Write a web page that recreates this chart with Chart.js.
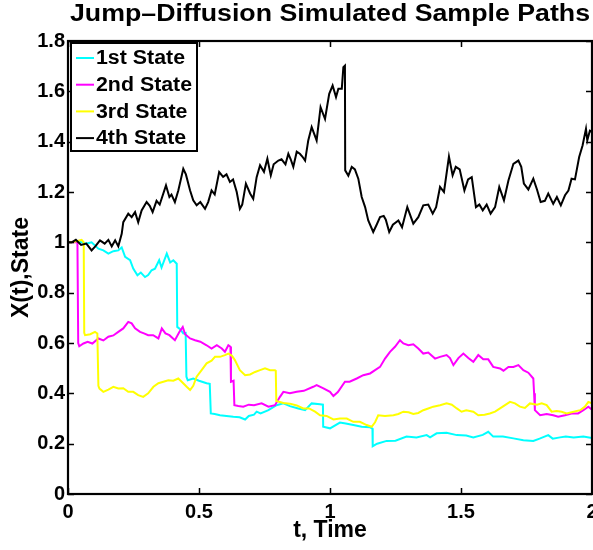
<!DOCTYPE html>
<html>
<head>
<meta charset="utf-8">
<script src="https://cdn.jsdelivr.net/npm/chart.js@4.4.1/dist/chart.umd.min.js"></script>
<style>
html,body{margin:0;padding:0;background:#fff;}
#wrap{width:593px;height:550px;position:relative;}
</style>
</head>
<body>
<div id="wrap"><canvas id="c" width="593" height="550"></canvas></div>
<script>
const chartTitle = 'Jump\u2013Diffusion Simulated Sample Paths';
const seriesNames = ['1st State', '2nd State', '3rd State', '4th State'];
const seriesColors = ['#00FFFF', '#FF00FF', '#FFFF00', '#000000'];
const xTickValues = [0, 0.5, 1, 1.5, 2];
const xTickLabels = ['0', '0.5', '1', '1.5', '2'];
const yTickValues = [0, 0.2, 0.4, 0.6, 0.8, 1, 1.2, 1.4, 1.6, 1.8];
const yTickLabels = ['0', '0.2', '0.4', '0.6', '0.8', '1', '1.2', '1.4', '1.6', '1.8'];

const state1 = [[0,1.0],[0.014,1.0],[0.036,1.005],[0.071,0.995],[0.09,1.0],[0.116,0.975],[0.135,0.968],[0.154,0.955],[0.173,0.965],[0.192,0.968],[0.205,0.98],[0.218,0.942],[0.237,0.929],[0.249,0.896],[0.265,0.869],[0.278,0.88],[0.294,0.862],[0.306,0.87],[0.319,0.889],[0.332,0.895],[0.348,0.929],[0.357,0.9],[0.377,0.955],[0.39,0.92],[0.402,0.929],[0.415,0.915],[0.417,0.664],[0.428,0.655],[0.44,0.638],[0.449,0.64],[0.452,0.466],[0.457,0.452],[0.478,0.459],[0.5,0.45],[0.529,0.44],[0.541,0.438],[0.545,0.32],[0.56,0.318],[0.58,0.313],[0.605,0.31],[0.631,0.307],[0.655,0.305],[0.676,0.296],[0.69,0.31],[0.71,0.315],[0.72,0.327],[0.735,0.32],[0.765,0.333],[0.796,0.353],[0.822,0.36],[0.847,0.349],[0.879,0.34],[0.905,0.333],[0.93,0.36],[0.962,0.357],[0.973,0.355],[0.974,0.267],[1.0,0.261],[1.038,0.284],[1.06,0.28],[1.089,0.274],[1.121,0.267],[1.153,0.265],[1.162,0.26],[1.163,0.19],[1.18,0.2],[1.216,0.211],[1.25,0.212],[1.292,0.228],[1.33,0.225],[1.369,0.234],[1.382,0.225],[1.407,0.241],[1.445,0.243],[1.484,0.234],[1.52,0.232],[1.547,0.225],[1.583,0.235],[1.604,0.247],[1.623,0.228],[1.66,0.228],[1.7,0.221],[1.738,0.214],[1.776,0.211],[1.8,0.22],[1.833,0.234],[1.85,0.22],[1.878,0.225],[1.9,0.228],[1.93,0.225],[1.967,0.228],[2.0,0.222]];

const state2 = [[0,1.0],[0.014,1.0],[0.036,1.0],[0.039,0.6],[0.043,0.587],[0.059,0.598],[0.075,0.605],[0.093,0.598],[0.116,0.618],[0.135,0.61],[0.154,0.625],[0.173,0.63],[0.192,0.644],[0.211,0.658],[0.23,0.684],[0.243,0.678],[0.256,0.658],[0.275,0.644],[0.29,0.638],[0.306,0.631],[0.325,0.631],[0.345,0.618],[0.358,0.658],[0.372,0.638],[0.387,0.631],[0.408,0.611],[0.425,0.644],[0.438,0.664],[0.447,0.635],[0.466,0.618],[0.485,0.611],[0.505,0.605],[0.529,0.591],[0.548,0.578],[0.568,0.591],[0.587,0.578],[0.599,0.565],[0.612,0.591],[0.62,0.585],[0.622,0.446],[0.632,0.45],[0.635,0.353],[0.65,0.35],[0.669,0.347],[0.69,0.355],[0.71,0.353],[0.739,0.36],[0.765,0.347],[0.79,0.353],[0.809,0.386],[0.822,0.406],[0.847,0.4],[0.873,0.406],[0.9,0.41],[0.936,0.426],[0.949,0.433],[0.975,0.42],[1.0,0.406],[1.013,0.389],[1.03,0.405],[1.057,0.446],[1.075,0.446],[1.102,0.459],[1.127,0.472],[1.153,0.479],[1.172,0.492],[1.191,0.505],[1.21,0.538],[1.229,0.565],[1.248,0.585],[1.267,0.611],[1.28,0.598],[1.299,0.591],[1.318,0.595],[1.337,0.578],[1.356,0.558],[1.375,0.562],[1.401,0.538],[1.42,0.545],[1.445,0.552],[1.458,0.54],[1.471,0.512],[1.49,0.54],[1.509,0.558],[1.528,0.54],[1.547,0.525],[1.566,0.552],[1.585,0.535],[1.604,0.535],[1.623,0.505],[1.649,0.499],[1.662,0.49],[1.681,0.505],[1.7,0.505],[1.719,0.512],[1.738,0.492],[1.757,0.482],[1.776,0.459],[1.779,0.4],[1.782,0.333],[1.802,0.313],[1.827,0.318],[1.852,0.313],[1.871,0.307],[1.897,0.313],[1.922,0.32],[1.947,0.32],[1.967,0.333],[1.986,0.347],[2.0,0.335]];

const state3 = [[0,1.0],[0.014,1.0],[0.036,1.005],[0.052,1.01],[0.06,1.0],[0.062,0.64],[0.065,0.631],[0.085,0.635],[0.103,0.644],[0.112,0.638],[0.116,0.43],[0.12,0.419],[0.135,0.406],[0.154,0.415],[0.173,0.426],[0.192,0.419],[0.211,0.42],[0.23,0.406],[0.249,0.406],[0.268,0.393],[0.287,0.386],[0.306,0.4],[0.326,0.426],[0.345,0.44],[0.364,0.446],[0.383,0.452],[0.402,0.45],[0.421,0.459],[0.434,0.446],[0.453,0.426],[0.466,0.413],[0.478,0.43],[0.491,0.466],[0.51,0.492],[0.529,0.519],[0.548,0.53],[0.561,0.545],[0.58,0.545],[0.599,0.552],[0.612,0.558],[0.625,0.55],[0.637,0.532],[0.656,0.492],[0.676,0.472],[0.695,0.475],[0.714,0.485],[0.733,0.492],[0.752,0.499],[0.771,0.492],[0.79,0.492],[0.793,0.49],[0.795,0.37],[0.822,0.362],[0.847,0.359],[0.873,0.352],[0.898,0.34],[0.92,0.34],[0.943,0.327],[0.962,0.313],[0.987,0.31],[1.013,0.296],[1.038,0.3],[1.064,0.3],[1.089,0.287],[1.114,0.287],[1.14,0.274],[1.159,0.267],[1.172,0.285],[1.184,0.313],[1.21,0.31],[1.242,0.313],[1.261,0.318],[1.28,0.327],[1.3,0.325],[1.318,0.318],[1.337,0.322],[1.356,0.333],[1.375,0.34],[1.394,0.347],[1.42,0.353],[1.445,0.36],[1.465,0.355],[1.484,0.34],[1.502,0.327],[1.52,0.333],[1.547,0.327],[1.566,0.313],[1.59,0.315],[1.61,0.32],[1.63,0.327],[1.649,0.34],[1.668,0.353],[1.687,0.366],[1.706,0.36],[1.725,0.347],[1.744,0.342],[1.763,0.36],[1.79,0.355],[1.808,0.36],[1.827,0.353],[1.846,0.327],[1.865,0.33],[1.884,0.327],[1.903,0.32],[1.93,0.327],[1.955,0.333],[1.973,0.347],[1.986,0.366],[2.0,0.36]];

const state4 = [[0,1.0],[0.014,1.0],[0.03,1.01],[0.05,0.99],[0.07,0.995],[0.09,0.968],[0.105,0.985],[0.122,1.008],[0.14,0.995],[0.154,1.01],[0.167,0.984],[0.18,1.008],[0.192,0.984],[0.205,1.034],[0.211,1.08],[0.23,1.114],[0.243,1.1],[0.256,1.12],[0.268,1.08],[0.281,1.127],[0.3,1.16],[0.312,1.145],[0.323,1.12],[0.338,1.165],[0.35,1.15],[0.374,1.226],[0.387,1.18],[0.395,1.19],[0.408,1.16],[0.421,1.206],[0.44,1.292],[0.45,1.27],[0.466,1.206],[0.478,1.167],[0.491,1.147],[0.505,1.16],[0.523,1.133],[0.535,1.16],[0.548,1.206],[0.56,1.19],[0.577,1.279],[0.592,1.26],[0.605,1.27],[0.618,1.24],[0.63,1.25],[0.644,1.2],[0.656,1.133],[0.665,1.15],[0.679,1.233],[0.695,1.194],[0.707,1.173],[0.72,1.259],[0.733,1.306],[0.748,1.28],[0.761,1.332],[0.774,1.266],[0.785,1.31],[0.803,1.325],[0.815,1.33],[0.83,1.31],[0.841,1.352],[0.85,1.33],[0.86,1.3],[0.873,1.36],[0.885,1.352],[0.895,1.34],[0.905,1.325],[0.917,1.405],[0.93,1.458],[0.949,1.405],[0.964,1.537],[0.981,1.49],[0.997,1.59],[1.01,1.623],[1.023,1.577],[1.032,1.61],[1.045,1.61],[1.051,1.696],[1.057,1.702],[1.058,1.286],[1.07,1.265],[1.083,1.3],[1.095,1.29],[1.108,1.253],[1.121,1.18],[1.134,1.14],[1.146,1.087],[1.165,1.041],[1.178,1.07],[1.191,1.1],[1.205,1.105],[1.213,1.09],[1.226,1.041],[1.24,1.07],[1.261,1.087],[1.275,1.06],[1.295,1.14],[1.318,1.074],[1.337,1.1],[1.356,1.147],[1.375,1.15],[1.392,1.114],[1.405,1.14],[1.42,1.22],[1.435,1.2],[1.454,1.341],[1.468,1.266],[1.48,1.3],[1.495,1.29],[1.513,1.206],[1.527,1.25],[1.541,1.259],[1.557,1.14],[1.57,1.15],[1.583,1.127],[1.598,1.15],[1.613,1.114],[1.63,1.14],[1.646,1.22],[1.664,1.167],[1.681,1.246],[1.7,1.312],[1.719,1.325],[1.73,1.3],[1.74,1.233],[1.757,1.21],[1.776,1.253],[1.79,1.21],[1.804,1.16],[1.82,1.165],[1.833,1.194],[1.852,1.153],[1.866,1.18],[1.881,1.147],[1.897,1.187],[1.91,1.206],[1.922,1.253],[1.935,1.25],[1.951,1.339],[1.964,1.385],[1.977,1.451],[1.982,1.405],[1.992,1.444],[2.0,1.44]];

const seriesData = [state1, state2, state3, state4];
const FONT = '"Liberation Sans", Arial, sans-serif';

function stretchedText(ctx, text, x, y, font, targetWidth, align) {
  ctx.save();
  ctx.font = font;
  const w = ctx.measureText(text).width;
  const sx = targetWidth / w;
  ctx.translate(x, y);
  ctx.scale(sx, 1);
  ctx.textAlign = align;
  ctx.fillText(text, 0, 0);
  ctx.restore();
}

const frameAndTicks = {
  id: 'frameAndTicks',
  afterDatasetsDraw(chart) {
    const {ctx, chartArea: a, scales} = chart;
    ctx.save();
    ctx.strokeStyle = '#000';
    ctx.lineWidth = 1.5;
    const L = 6;
    ctx.beginPath();
    xTickValues.forEach(v => {
      const px = Math.round(scales.x.getPixelForValue(v)) + 0.5;
      ctx.moveTo(px, a.bottom); ctx.lineTo(px, a.bottom - L);
      ctx.moveTo(px, a.top); ctx.lineTo(px, a.top + L);
    });
    yTickValues.forEach(v => {
      const py = Math.round(scales.y.getPixelForValue(v)) + 0.5;
      ctx.moveTo(a.left, py); ctx.lineTo(a.left + L, py);
      ctx.moveTo(a.right, py); ctx.lineTo(a.right - L, py);
    });
    ctx.stroke();
    ctx.lineWidth = 2.2;
    ctx.strokeRect(a.left, a.top, a.right - a.left, a.bottom - a.top);
    // title
    ctx.fillStyle = '#000';
    ctx.textBaseline = 'middle';
    stretchedText(ctx, chartTitle, (a.left + a.right) / 2, 15, 'bold 23px ' + FONT, 520, 'center');
    // legend
    const bx = 71, by = 43, bw = 126, bh = 108;
    ctx.fillStyle = '#fff';
    ctx.fillRect(bx, by, bw, bh);
    ctx.lineWidth = 2;
    ctx.strokeStyle = '#000';
    ctx.strokeRect(bx, by, bw, bh);
    ctx.font = 'bold 19.5px ' + FONT;
    const sx = 89 / ctx.measureText(seriesNames[0]).width;
    chart.data.datasets.forEach((ds, i) => {
      const cy = 58 + i * 26.7;
      ctx.strokeStyle = ds.borderColor;
      ctx.lineWidth = 2;
      ctx.beginPath();
      ctx.moveTo(76, cy); ctx.lineTo(94, cy);
      ctx.stroke();
      ctx.fillStyle = '#000';
      const w = ctx.measureText(ds.label).width * sx;
      stretchedText(ctx, ds.label, 96, cy + 1, 'bold 19.5px ' + FONT, w, 'left');
    });
    ctx.restore();
  }
};

new Chart(document.getElementById('c'), {
  type: 'line',
  data: {
    datasets: seriesNames.map((name, i) => ({
      label: name,
      data: seriesData[i].map(([x, y]) => ({x, y})),
      borderColor: seriesColors[i],
      backgroundColor: seriesColors[i],
      borderWidth: 2,
      pointRadius: 0,
      tension: 0,
      fill: false,
      order: 4 - i
    }))
  },
  options: {
    responsive: false,
    animation: false,
    layout: {autoPadding: false, padding: {top: 41, right: 1, left: 0, bottom: 0}},
    plugins: {legend: {display: false}, title: {display: false}, tooltip: {enabled: false}},
    scales: {
      x: {
        type: 'linear', min: 0, max: 2,
        afterBuildTicks: s => { s.ticks = xTickValues.map(v => ({value: v})); },
        afterFit: s => { s.height = 56; s.paddingLeft = 0; s.paddingRight = 0; },
        grid: {display: false, drawTicks: false},
        border: {display: false},
        ticks: {
          padding: 6, color: '#000', maxRotation: 0, autoSkip: false,
          font: {family: FONT, size: 20, weight: 'bold'},
          callback: (v, i) => xTickLabels[i]
        },
        title: {display: true, text: 't, Time', color: '#000',
          font: {family: FONT, size: 23, weight: 'bold'}, padding: {top: 0, bottom: 6}}
      },
      y: {
        type: 'linear', min: 0, max: 1.8,
        afterBuildTicks: s => { s.ticks = yTickValues.map(v => ({value: v})); },
        afterFit: s => { s.width = 68; s.paddingTop = 0; s.paddingBottom = 0; },
        grid: {display: false, drawTicks: false},
        border: {display: false},
        ticks: {
          padding: 3, color: '#000', autoSkip: false,
          font: {family: FONT, size: 20, weight: 'bold'},
          callback: (v, i) => yTickLabels[i]
        },
        title: {display: true, text: 'X(t),State', color: '#000',
          font: {family: FONT, size: 23, weight: 'bold'}, padding: {top: 8, bottom: 0}}
      }
    }
  },
  plugins: [frameAndTicks]
});
</script>
</body>
</html>
